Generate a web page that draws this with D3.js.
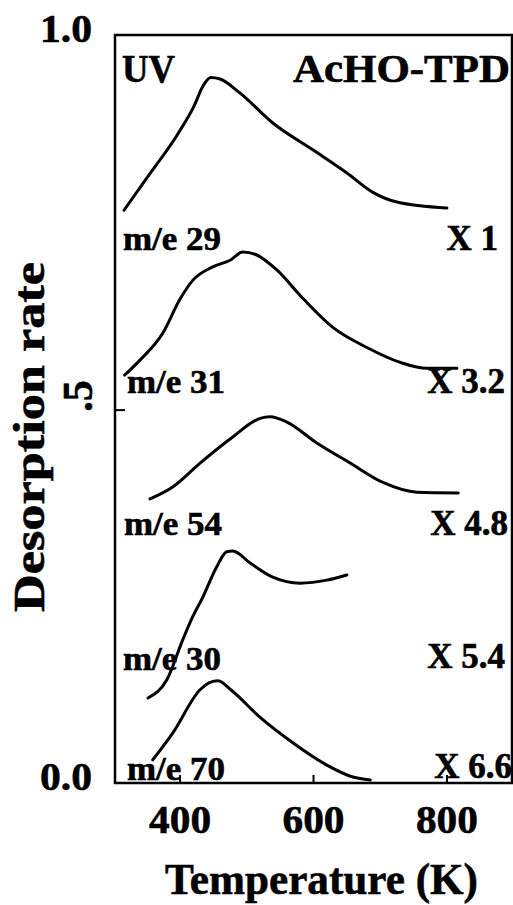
<!DOCTYPE html>
<html>
<head>
<meta charset="utf-8">
<title>AcHO-TPD</title>
<style>
  body { margin: 0; background: #fff; }
  text { font-family: "Liberation Serif", "Times New Roman", serif; font-weight: bold; fill: #000; stroke: #000; stroke-width: 0.6px; }
</style>
</head>
<body>
<svg width="513" height="905"></svg>
<script src="https://cdn.jsdelivr.net/npm/d3@7"></script>
<script>

// traces (temperature in K, desorption rate)
var temp29 = [316, 354, 395, 420, 436, 446, 460, 490, 539, 599, 650, 689, 725, 800];
var rate29 = [0.768, 0.816, 0.868, 0.906, 0.937, 0.946, 0.944, 0.925, 0.885, 0.849, 0.818, 0.792, 0.779, 0.771];

var temp31 = [317, 340, 374, 400, 419, 449, 475, 494, 515, 545, 584, 629, 680, 730, 770, 815];
var rate31 = [0.547, 0.567, 0.603, 0.649, 0.674, 0.692, 0.701, 0.712, 0.708, 0.688, 0.650, 0.611, 0.584, 0.564, 0.556, 0.556];

var temp54 = [355, 389, 430, 479, 520, 535, 560, 605, 655, 704, 755, 817];
var rate54 = [0.381, 0.397, 0.429, 0.464, 0.489, 0.491, 0.484, 0.456, 0.429, 0.403, 0.390, 0.389];

var temp30 = [352, 380, 404, 419, 434, 455, 470, 479, 505, 539, 580, 620, 650];
var rate30 = [0.114, 0.138, 0.192, 0.223, 0.249, 0.290, 0.310, 0.311, 0.295, 0.276, 0.268, 0.272, 0.279];

var temp70 = [359, 389, 430, 445, 457, 476, 520, 569, 620, 659, 685];
var rate70 = [0.031, 0.067, 0.125, 0.135, 0.137, 0.125, 0.088, 0.054, 0.024, 0.008, 0.004];

var massLabels = ["m/e 29", "m/e 31", "m/e 54", "m/e 30", "m/e 70"];
var factorLabels = ["X 1", "X 3.2", "X 4.8", "X 5.4", "X 6.6"];
// label anchors (K, rate)
var massLabelT = [314.5, 320.5, 316, 314.5, 320.5];
var factorLabelT = [876.5, 887, 891.5, 887, 897.5];
var labelRate = [0.7147, 0.523, 0.3325, 0.1515, 0.004];
var factorRate = [0.7147, 0.523, 0.3325, 0.154, 0.0067];

var xTicks = [400, 600, 800];
var yTicks = [0, 0.5, 1];
var yTickLabels = ["0.0", ".5", "1.0"];

var svg = d3.select("svg");

var x = d3.scaleLinear().domain([302.5, 897.5]).range([115, 512]);
var y = d3.scaleLinear().domain([0, 1.003]).range([783, 35]);

var series = [
  {t: temp29, r: rate29},
  {t: temp31, r: rate31},
  {t: temp54, r: rate54},
  {t: temp30, r: rate30},
  {t: temp70, r: rate70}
];

var line = d3.line()
    .x(function(d) { return x(d[0]); })
    .y(function(d) { return y(d[1]); })
    .curve(d3.curveMonotoneX);

// frame
svg.append("rect")
    .attr("x", x.range()[0])
    .attr("y", y.range()[1])
    .attr("width", x.range()[1] - x.range()[0])
    .attr("height", y.range()[0] - y.range()[1])
    .attr("fill", "none")
    .attr("stroke", "#000")
    .attr("stroke-width", 2.5);

// inward ticks
svg.append("g")
  .selectAll("line")
  .data(xTicks)
  .enter().append("line")
    .attr("x1", function(d) { return x(d); })
    .attr("x2", function(d) { return x(d); })
    .attr("y1", y(0))
    .attr("y2", y(0) - 8)
    .attr("stroke", "#000")
    .attr("stroke-width", 2);

svg.append("line")
    .attr("x1", x.range()[0])
    .attr("x2", x.range()[0] + 10)
    .attr("y1", y(0.5))
    .attr("y2", y(0.5))
    .attr("stroke", "#000")
    .attr("stroke-width", 2);

// tick labels
svg.append("g")
  .selectAll("text")
  .data(xTicks)
  .enter().append("text")
    .attr("x", function(d) { return x(d); })
    .attr("y", 833)
    .attr("text-anchor", "middle")
    .attr("font-size", 40)
    .attr("textLength", 62)
    .attr("lengthAdjust", "spacingAndGlyphs")
    .text(function(d) { return d; });

yTicks.forEach(function(d, i) {
  if (d == 0.5) {
    svg.append("text")
      .attr("transform", "translate(92," + (y(d) - 14) + ") rotate(-90)")
      .attr("text-anchor", "middle")
      .attr("font-size", 42)
      .text(yTickLabels[i]);
  } else {
    svg.append("text")
      .attr("x", 66)
      .attr("y", d == 0 ? y(d) + 7 : y(d) + 5)
      .attr("text-anchor", "middle")
      .attr("font-size", 40)
      .attr("textLength", 52)
      .attr("lengthAdjust", "spacingAndGlyphs")
      .text(yTickLabels[i]);
  }
});

// axis titles
svg.append("text")
    .attr("x", 321.5)
    .attr("y", 894)
    .attr("text-anchor", "middle")
    .attr("font-size", 44)
    .attr("textLength", 313)
    .attr("lengthAdjust", "spacingAndGlyphs")
    .text("Temperature (K)");

svg.append("text")
    .attr("transform", "translate(44,437) rotate(-90)")
    .attr("text-anchor", "middle")
    .attr("font-size", 44)
    .attr("textLength", 350)
    .attr("lengthAdjust", "spacingAndGlyphs")
    .text("Desorption rate");

// curves
svg.append("g")
  .selectAll("path")
  .data(series)
  .enter().append("path")
    .attr("fill", "none")
    .attr("stroke", "#000")
    .attr("stroke-width", 3)
    .attr("stroke-linecap", "round")
    .attr("d", function(s) { return line(d3.zip(s.t, s.r)); });

// panel labels
svg.append("text")
    .attr("x", x(313))
    .attr("y", y(0.94))
    .attr("font-size", 40)
    .attr("textLength", 53)
    .attr("lengthAdjust", "spacingAndGlyphs")
    .text("UV");

svg.append("text")
    .attr("x", x(894.5))
    .attr("y", y(0.94))
    .attr("text-anchor", "end")
    .attr("font-size", 40)
    .attr("textLength", 217)
    .attr("lengthAdjust", "spacingAndGlyphs")
    .text("AcHO-TPD");

svg.append("g")
  .selectAll("text")
  .data(massLabels)
  .enter().append("text")
    .attr("x", function(d, i) { return x(massLabelT[i]); })
    .attr("y", function(d, i) { return y(labelRate[i]); })
    .attr("font-size", 34)
    .attr("textLength", 98)
    .attr("lengthAdjust", "spacingAndGlyphs")
    .text(function(d) { return d; });

svg.append("g")
  .selectAll("text")
  .data(factorLabels)
  .enter().append("text")
    .attr("x", function(d, i) { return x(factorLabelT[i]); })
    .attr("y", function(d, i) { return y(factorRate[i]); })
    .attr("text-anchor", "end")
    .attr("font-size", 35)
    .text(function(d) { return d; });

</script>
</body>
</html>
